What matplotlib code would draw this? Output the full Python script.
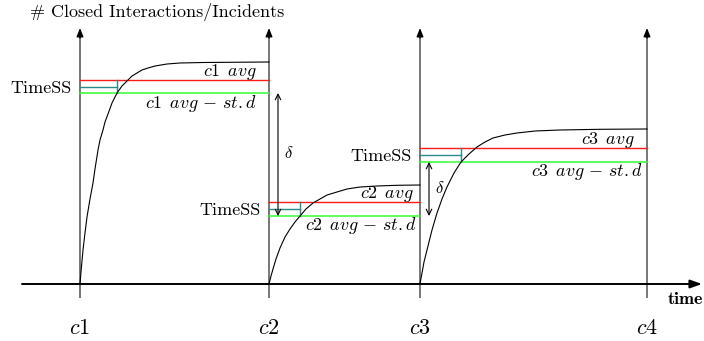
import matplotlib
matplotlib.use("Agg")
import matplotlib.pyplot as plt

plt.rcParams['font.family'] = ['cmr10']
plt.rcParams['mathtext.fontset'] = 'cm'

# cycle boundaries on the time axis and their labels
cycle_x = [80, 269, 420, 647]
cycle_labels = ['$c1$', '$c2$', '$c3$', '$c4$']

# per-cycle levels (height above the time axis)
avg_level = [204, 82, 136]
std_level = [191, 68, 122]
timess_level = [197, 75, 129]
timess_x = [117, 300, 461]

# closed interactions curves
curve1_x = [80, 81, 83, 85, 87, 90, 93, 95, 98, 100, 103, 105, 108, 112, 117, 122,
            128, 132, 137, 142, 148, 155, 167, 180, 203, 269]
curve1_y = [0, 12, 34, 51, 67, 85, 101, 115, 134, 144, 154, 162, 170, 181, 191, 198,
            204, 208, 211, 214, 216, 218, 220, 221, 221.5, 222]
curve2_x = [269, 271, 273, 276, 280, 285, 290, 295, 300, 306, 313, 320, 327, 337, 347, 360, 377, 397, 420]
curve2_y = [0, 8, 15, 25, 36, 47, 55, 62, 68, 75, 81, 85, 89, 92, 95, 97, 98, 98.7, 99]
curve3_x = [420, 422, 424, 427, 432, 437, 442, 447, 454, 461, 469, 477, 485, 493, 505, 517, 535, 560, 600, 647]
curve3_y = [0, 11, 22, 34, 54, 71, 85, 97, 111, 122, 130, 137, 142, 146, 149, 151, 153, 154, 154.7, 155]
curves = [(curve1_x, curve1_y), (curve2_x, curve2_y), (curve3_x, curve3_y)]

avg_label_off = [-12, -6, -12]
std_label_off = [-12, -3, -4]

fig = plt.figure(figsize=(7.04, 3.41), dpi=100)
ax = fig.add_axes([0, 0, 1, 1])
ax.set_xlim(0, 704)
ax.set_ylim(-57, 284)
ax.axis('off')

# vertical cycle lines with arrow tips
for x in cycle_x:
    ax.plot([x, x], [-14, 250], color='#777777', lw=1.4, solid_capstyle='butt')
    ax.annotate('', xy=(x, 256), xytext=(x, 246),
                arrowprops=dict(arrowstyle='-|>,head_length=0.5,head_width=0.2',
                                color='black', lw=1.0, shrinkA=0, shrinkB=0))

# time axis
ax.annotate('', xy=(702, 0), xytext=(22, 0),
            arrowprops=dict(arrowstyle='-|>,head_length=0.7,head_width=0.25',
                            color='black', lw=1.4, shrinkA=0, shrinkB=0))

for i in range(3):
    x0, x1 = cycle_x[i], cycle_x[i + 1]
    ax.plot([x0, x1], [avg_level[i]] * 2, color='#ff1a1a', lw=1.0)
    ax.plot([x0, x1], [std_level[i]] * 2, color='#33ff33', lw=1.1)
    ax.plot([x0, timess_x[i]], [timess_level[i]] * 2, color='#2a8a8a', lw=1.0)
    ax.plot([timess_x[i]] * 2, [std_level[i], avg_level[i]], color='#2a8a8a', lw=1.0)
    cx, cy = curves[i]
    ax.plot(cx, cy, color='black', lw=0.8)

    ax.text(x1 + avg_label_off[i], avg_level[i] + 8, f'$c{i+1}\\ \\, avg$', fontsize=13,
            ha='right', va='center')
    ax.text(x1 + std_label_off[i], std_level[i] - 10, f'$c{i+1}\\ \\, avg\\, -\\, st.d$',
            fontsize=13, ha='right', va='center')
    ax.text(x0 - 8, timess_level[i] - 1, 'TimeSS', fontsize=13, ha='right', va='center')

# delta arrows between consecutive cycles
delta_x = [278, 429]
delta_pairs = [(0, 1), (2, 1)]
for dx, (a, b) in zip(delta_x, delta_pairs):
    ax.annotate('', xy=(dx, std_level[b]), xytext=(dx, std_level[a]),
                arrowprops=dict(arrowstyle='<->,head_length=0.4,head_width=0.2',
                                color='black', lw=0.8, shrinkA=0, shrinkB=0))
    ax.text(dx + 11, (std_level[a] + std_level[b]) / 2 + 1, r'$\delta$',
            fontsize=12, ha='center', va='center')

ax.text(30, 272, '# Closed Interactions/Incidents', fontsize=13, ha='left', va='center')
ax.text(668, -15, 'time', fontsize=13, family='cmb10', ha='left', va='center')
for x, lab in zip(cycle_x, cycle_labels):
    ax.text(x, -44, lab, fontsize=16, ha='center', va='center')

fig.savefig('out.png', dpi=100)
